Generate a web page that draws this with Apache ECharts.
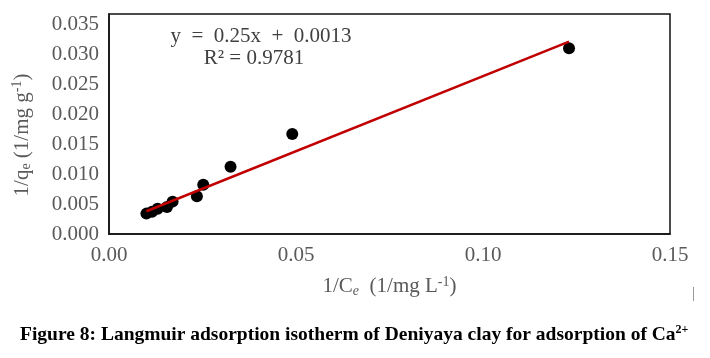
<!DOCTYPE html>
<html><head><meta charset="utf-8">
<script src="https://cdn.jsdelivr.net/npm/echarts@6/dist/echarts.min.js"></script>
<style>html,body{margin:0;padding:0;background:#fff}#c{width:710px;height:358px}</style>
</head><body><div id="c"></div>
<script>
const xTicks = [0, 0.05, 0.10, 0.15];
const yTicks = [0, 0.005, 0.010, 0.015, 0.020, 0.025, 0.030, 0.035];
const invCe = [0.0100, 0.0115, 0.0130, 0.0155, 0.0170, 0.0235, 0.0252, 0.0325, 0.0490, 0.1230];
const invQe = [0.0034, 0.0037, 0.0042, 0.0045, 0.0054, 0.0063, 0.0082, 0.0112, 0.0167, 0.0310];
const trendX = [0.0100, 0.1230];
const trendY = [0.0038, 0.0321];
const eqText = 'y  =  0.25x  +  0.0013';
const r2Text = 'R\u00B2 = 0.9781';

const chart = echarts.init(document.getElementById('c'));
const serif = '"Liberation Serif", "Times New Roman", serif';
chart.setOption({
  animation: false,
  grid: {left: 109, right: 40, top: 14, bottom: 124, show: true, borderColor: '#111', borderWidth: 1.5, backgroundColor: 'transparent'},
  xAxis: {
    type: 'value', min: xTicks[0], max: xTicks[xTicks.length - 1], interval: 0.05,
    axisLine: {show: true, lineStyle: {color: '#111', width: 1.5}},
    axisTick: {show: false}, splitLine: {show: false},
    axisLabel: {color: '#595959', fontFamily: serif, fontSize: 21, margin: 11, formatter: v => v.toFixed(2)},
    name: '{a|1/C}{s|e}{a|  (1/mg L}{p|-1}{a|)}', nameLocation: 'middle', nameGap: 41,
    nameTextStyle: {rich: {
      a: {fontFamily: serif, fontSize: 21, color: '#595959'},
      s: {fontFamily: serif, fontSize: 14, color: '#595959', fontStyle: 'italic', verticalAlign: 'bottom', padding: [9, 0, 0, 0]},
      p: {fontFamily: serif, fontSize: 14, color: '#595959', verticalAlign: 'top', padding: [0, 0, 9, 0]}
    }}
  },
  yAxis: {
    type: 'value', min: 0, max: 0.0367, interval: 0.005,
    axisLine: {show: true, lineStyle: {color: '#111', width: 1.5}},
    axisTick: {show: false}, splitLine: {show: false},
    axisLabel: {color: '#595959', fontFamily: serif, fontSize: 21, margin: 10, showMaxLabel: false,
      formatter: v => yTicks.some(t => Math.abs(t - v) < 1e-9) ? v.toFixed(3) : ''}
  },
  series: [
    {type: 'scatter', data: invCe.map((x, i) => [x, invQe[i]]), symbol: 'circle', symbolSize: 12,
     itemStyle: {color: '#000', opacity: 1}, z: 2},
    {type: 'line', data: trendX.map((x, i) => [x, trendY[i]]), symbol: 'none',
     lineStyle: {color: '#C00000', width: 2.5}, z: 3}
  ],
  graphic: [
    {type: 'text', x: 22, y: 135, rotation: Math.PI / 2, style: {
      text: '{a|1/q}{s|e}{a| (1/mg g}{p|-1}{a|)}', align: 'center', verticalAlign: 'middle',
      rich: {
        a: {font: '21px ' + serif, fill: '#595959'},
        s: {font: '14px ' + serif, fill: '#595959', verticalAlign: 'bottom', padding: [9, 0, 0, 0]},
        p: {font: '14px ' + serif, fill: '#595959', verticalAlign: 'top', padding: [0, 0, 9, 0]}
      }}},
    {type: 'text', x: 261, y: 36, style: {text: eqText, font: '21px ' + serif, fill: '#404040', align: 'center', verticalAlign: 'middle'}},
    {type: 'text', x: 254, y: 58, style: {text: r2Text, font: '21px ' + serif, fill: '#404040', align: 'center', verticalAlign: 'middle'}},
    {type: 'text', left: 20, top: 324, style: {
      text: '{b|Figure 8: Langmuir adsorption isotherm of Deniyaya clay for adsorption of Ca}{u|2+}',
      rich: {
        b: {font: 'bold 19.5px ' + serif, fill: '#000'},
        u: {font: 'bold 12px ' + serif, fill: '#000', verticalAlign: 'top', padding: [0, 0, 9, 0]}
      }}},
    {type: 'line', shape: {x1: 693.5, y1: 287, x2: 693.5, y2: 301}, style: {stroke: '#999', lineWidth: 1}}
  ]
});
</script></body></html>
